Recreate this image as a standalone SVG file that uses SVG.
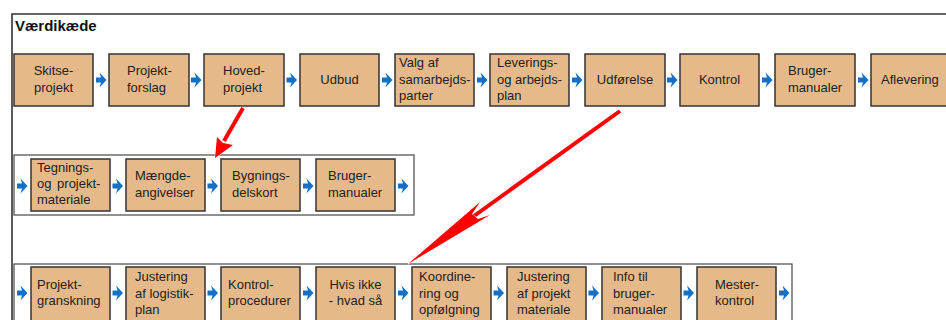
<svg xmlns="http://www.w3.org/2000/svg" xmlns:xlink="http://www.w3.org/1999/xlink" width="946" height="320" viewBox="0 0 946 320">
<style>
.box{fill:#e6b98b;stroke:#333;stroke-width:1.5}
.frame{fill:#fff;stroke:#555;stroke-width:1.3}
.outer{fill:none;stroke:#333;stroke-width:1.6}
.t{font-family:"Liberation Sans",Arial,sans-serif;font-size:13px;fill:#222}
.c{text-anchor:middle}
.title{font-family:"Liberation Sans",Arial,sans-serif;font-size:15px;font-weight:bold;fill:#111}
.blue{fill:#1470c4}
.red{fill:#f00;stroke:#fff;stroke-width:1;paint-order:stroke}
.redline{stroke:#f00;stroke-width:4;fill:none;stroke-linecap:butt}
</style>
<defs>
<path id="ba" class="blue" d="M-5,-2.5 L0,-2.5 L-1.5,-7.5 L5.5,0 L-1.5,7.5 L0,2.5 L-5,2.5 Z"/>
</defs>
<rect width="946" height="320" fill="#fff"/>
<path class="outer" d="M12,320 L12,14 L946,14"/>
<text class="title" x="15" y="31">Værdikæde</text>
<rect class="frame" x="14" y="155" width="400" height="60"/>
<rect class="frame" x="14" y="264" width="778" height="70"/>

<g id="n-skitseprojekt"><rect class="box" x="14" y="54" width="79" height="52"/><text class="t c" x="53.5" y="75">Skitse-</text><text class="t c" x="53.5" y="92">projekt</text></g>
<g id="n-projektforslag"><rect class="box" x="109" y="54" width="80" height="52"/><text class="t" x="127" y="75">Projekt-</text><text class="t" x="127" y="92">forslag</text></g>
<g id="n-hovedprojekt"><rect class="box" x="204" y="54" width="80" height="52"/><text class="t" x="223" y="75">Hoved-</text><text class="t" x="223" y="92">projekt</text></g>
<g id="n-udbud"><rect class="box" x="300" y="54" width="79" height="52"/><text class="t c" x="339.5" y="84">Udbud</text></g>
<g id="n-valg"><rect class="box" x="395" y="54" width="79" height="52"/><text class="t" x="399" y="67">Valg af</text><text class="t" x="399" y="83.5">samarbejds-</text><text class="t" x="399" y="100">parter</text></g>
<g id="n-levering"><rect class="box" x="490" y="54" width="79" height="52"/><text class="t" x="497" y="67">Leverings-</text><text class="t" x="497" y="83.5">og arbejds-</text><text class="t" x="497" y="100">plan</text></g>
<g id="n-udforelse"><rect class="box" x="585" y="54" width="80" height="52"/><text class="t c" x="625" y="84">Udførelse</text></g>
<g id="n-kontrol"><rect class="box" x="680" y="54" width="79" height="52"/><text class="t c" x="719.5" y="84">Kontrol</text></g>
<g id="n-brugermanualer1"><rect class="box" x="775" y="54" width="80" height="52"/><text class="t" x="788" y="75">Bruger-</text><text class="t" x="788" y="92">manualer</text></g>
<g id="n-aflevering"><rect class="box" x="871" y="54" width="80" height="52"/><text class="t" x="881" y="84">Aflevering</text></g>

<g id="n-tegning"><rect class="box" x="31" y="159" width="79" height="52"/><text class="t" x="37" y="172">Tegnings-</text><text class="t" x="37" y="188" word-spacing="2">og projekt-</text><text class="t" x="37" y="204">materiale</text></g>
<g id="n-maengde"><rect class="box" x="126" y="159" width="79" height="52"/><text class="t" x="135" y="180">Mængde-</text><text class="t" x="135" y="197">angivelser</text></g>
<g id="n-bygningsdel"><rect class="box" x="221" y="159" width="79" height="52"/><text class="t" x="232" y="180">Bygnings-</text><text class="t" x="232" y="197">delskort</text></g>
<g id="n-brugermanualer2"><rect class="box" x="316" y="159" width="79" height="52"/><text class="t" x="328" y="180">Bruger-</text><text class="t" x="328" y="197">manualer</text></g>

<g id="n-granskning"><rect class="box" x="31" y="267" width="79" height="60"/><text class="t" x="37" y="289">Projekt-</text><text class="t" x="37" y="305">granskning</text></g>
<g id="n-justlog"><rect class="box" x="126" y="267" width="79" height="60"/><text class="t" x="135" y="281">Justering</text><text class="t" x="135" y="298">af logistik-</text><text class="t" x="135" y="314">plan</text></g>
<g id="n-kontrolproc"><rect class="box" x="221" y="267" width="79" height="60"/><text class="t" x="228" y="289">Kontrol-</text><text class="t" x="228" y="305">procedurer</text></g>
<g id="n-hvisikke"><rect class="box" x="316" y="267" width="79" height="60"/><text class="t c" x="355.5" y="289">Hvis ikke</text><text class="t c" x="355.5" y="305">- hvad så</text></g>
<g id="n-koordinering"><rect class="box" x="412" y="267" width="79" height="60"/><text class="t" x="419" y="281">Koordine-</text><text class="t" x="419" y="298">ring og</text><text class="t" x="419" y="314">opfølgning</text></g>
<g id="n-justproj"><rect class="box" x="507" y="267" width="79" height="60"/><text class="t" x="517" y="281">Justering</text><text class="t" x="517" y="298">af projekt</text><text class="t" x="517" y="314">materiale</text></g>
<g id="n-info"><rect class="box" x="602" y="267" width="79" height="60"/><text class="t" x="613" y="281">Info til</text><text class="t" x="613" y="298">bruger-</text><text class="t" x="613" y="314">manualer</text></g>
<g id="n-mester"><rect class="box" x="697" y="267" width="79" height="60"/><text class="t" x="715" y="289">Mester-</text><text class="t" x="715" y="305">kontrol</text></g>

<g id="connectors">
<use xlink:href="#ba" x="101" y="80"/><use xlink:href="#ba" x="196" y="80"/><use xlink:href="#ba" x="291.5" y="80"/><use xlink:href="#ba" x="387" y="80"/><use xlink:href="#ba" x="482" y="80"/><use xlink:href="#ba" x="577" y="80"/><use xlink:href="#ba" x="672" y="80"/><use xlink:href="#ba" x="767" y="80"/><use xlink:href="#ba" x="863" y="80"/>
<use xlink:href="#ba" x="22" y="186"/><use xlink:href="#ba" x="117.5" y="186"/><use xlink:href="#ba" x="212.5" y="186"/><use xlink:href="#ba" x="308" y="186"/><use xlink:href="#ba" x="403" y="186"/>
<use xlink:href="#ba" x="22" y="293"/><use xlink:href="#ba" x="117.5" y="293"/><use xlink:href="#ba" x="212.5" y="293"/><use xlink:href="#ba" x="308" y="293"/><use xlink:href="#ba" x="403" y="293"/><use xlink:href="#ba" x="498.5" y="293"/><use xlink:href="#ba" x="593.5" y="293"/><use xlink:href="#ba" x="688.5" y="293"/><use xlink:href="#ba" x="784" y="293"/>
<g id="red1">
<path d="M243,108 L225,140" stroke="#fff" stroke-width="6" fill="none"/>
<path class="redline" d="M243,108 L224,141"/>
<path class="red" d="M215,158 L217,137 L223,143 L233,145 Z"/>
</g>
<g id="red2">
<path d="M620,111 L474,216" stroke="#fff" stroke-width="6" fill="none"/>
<path class="redline" d="M620,111 L474,216"/>
<path class="red" d="M408,264 L480,202 L472,214 L478,219 L490,215 Z"/>
</g>
</g>
</svg>
